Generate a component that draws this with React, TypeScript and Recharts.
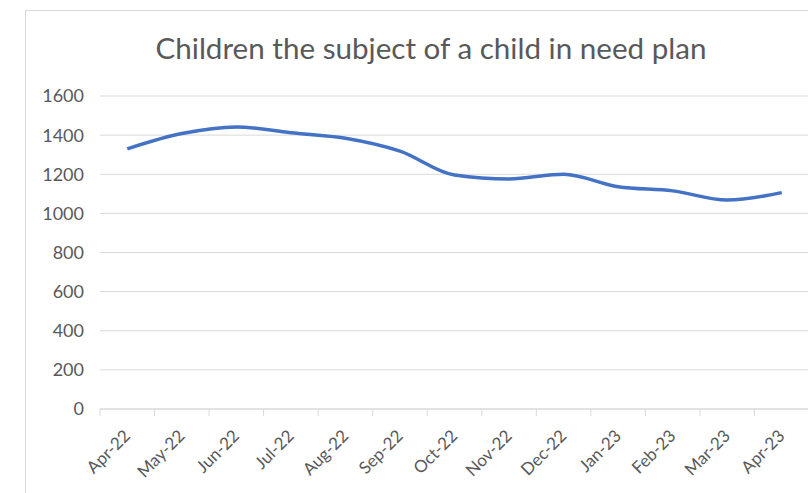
import { LineChart, Line, XAxis, YAxis, CartesianGrid } from "recharts";

const months = [
  "Apr-22", "May-22", "Jun-22", "Jul-22", "Aug-22", "Sep-22", "Oct-22",
  "Nov-22", "Dec-22", "Jan-23", "Feb-23", "Mar-23", "Apr-23",
];
const cinPlans = [1330, 1408, 1442, 1412, 1384, 1318, 1196, 1176, 1200, 1136, 1115, 1068, 1106];
const yTicks = [0, 200, 400, 600, 800, 1000, 1200, 1400, 1600];

const data = months.map((m, i) => ({ month: m, value: cinPlans[i] }));

const CHART_W = 830;
const MARGIN = { top: 96, right: 21, left: 40, bottom: 24 };
const Y_AXIS_W = 60;
const STEP = (CHART_W - MARGIN.left - MARGIN.right - Y_AXIS_W) / months.length;

const FONT = "Lato";

const MonthTick = ({ x, y, payload, index }: any) => {
  const axisY = y - 8;
  return (
    <g>
      <line x1={x - STEP / 2} y1={axisY} x2={x - STEP / 2} y2={axisY + 7} stroke="#d9d9d9" />
      {index === months.length - 1 && (
        <line x1={x + STEP / 2} y1={axisY} x2={x + STEP / 2} y2={axisY + 7} stroke="#d9d9d9" />
      )}
      <text
        x={x + 4}
        y={axisY + 28}
        textAnchor="end"
        fontSize={17}
        fill="#595959"
        fontFamily={FONT}
        transform={`rotate(-45 ${x + 4} ${axisY + 28})`}
      >
        {payload.value}
      </text>
    </g>
  );
};

const App = () => {
  return (
    <div
      style={{
        position: "fixed",
        left: 0,
        top: 0,
        width: 808,
        height: 493,
        overflow: "hidden",
        background: "#fff",
      }}
    >
      <div
        style={{
          position: "absolute",
          left: 25,
          top: 10,
          width: 820,
          height: 520,
          border: "1px solid #d9d9d9",
        }}
      />
      <div
        style={{
          position: "absolute",
          left: 0,
          top: 30,
          width: 862,
          textAlign: "center",
          fontFamily: FONT,
          fontSize: 29.6,
          lineHeight: "36px",
          color: "#595959",
          whiteSpace: "nowrap",
        }}
      >
        Children the subject of a child in need plan
      </div>
      <div style={{ position: "absolute", left: 0, top: 0 }}>
        <LineChart width={CHART_W} height={493} data={data} margin={MARGIN}>
          <CartesianGrid vertical={false} stroke="#d9d9d9" />
          <XAxis
            dataKey="month"
            height={60}
            interval={0}
            padding={{ left: STEP / 2, right: STEP / 2 }}
            axisLine={{ stroke: "#d9d9d9" }}
            tickLine={false}
            tick={<MonthTick />}
          />
          <YAxis
            width={Y_AXIS_W}
            domain={[0, 1600]}
            ticks={yTicks}
            axisLine={false}
            tickLine={false}
            tick={{ fontSize: 18, fill: "#595959", fontFamily: FONT }}
            tickMargin={10}
          />
          <Line
            type="monotone"
            dataKey="value"
            stroke="#4472C4"
            strokeWidth={3.5}
            dot={false}
            isAnimationActive={false}
          />
        </LineChart>
      </div>
    </div>
  );
};

export default App;
